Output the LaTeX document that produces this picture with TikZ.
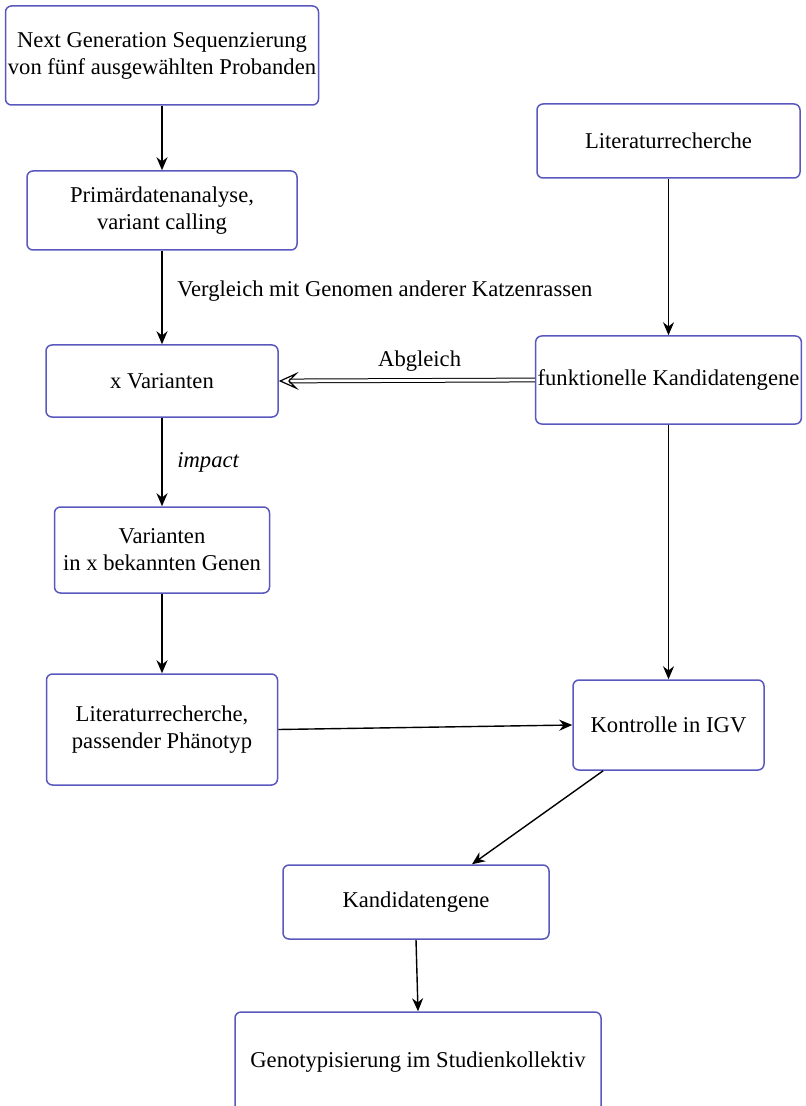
\documentclass[tikz,border=0pt]{standalone}
\usepackage{fontspec}
\setmainfont{Liberation Serif}
\usetikzlibrary{arrows.meta}
\definecolor{boxblau}{RGB}{88,88,190}

\begin{document}
\begin{tikzpicture}[x=0.5pt, y=-0.5pt,
        every node/.style={font=\fontsize{11.3}{13.5}\selectfont},
        box/.style={draw=boxblau, line width=0.75pt, rounded corners=3pt, align=center, inner sep=1pt},
        pfeil/.style={line width=0.7pt, -{Stealth[length=6.5pt, width=5.5pt]}},
        abgleich/.style={double, double distance=1.4pt, line width=0.5pt, -{Stealth[open, length=10pt, width=9pt, inset=4.5pt, line width=0.6pt]}}]
        \useasboundingbox (0,0) rectangle (805,1106);

        % Linke Spalte (Sequenzierung)
        \node[box, minimum width=156.5pt, minimum height=49.5pt] (ngs) at (162,55.5) {Next Generation Sequenzierung\\von fünf ausgewählten Probanden};
        \node[box, minimum width=135pt, minimum height=39.5pt] (prim) at (162,210.5) {Primärdatenanalyse,\\variant calling};
        \node[box, minimum width=116pt, minimum height=36pt] (xvar) at (162,381) {x Varianten};
        \node[box, minimum width=107.5pt, minimum height=43pt] (var) at (162,550) {Varianten\\in x bekannten Genen};
        \node[box, minimum width=115.5pt, minimum height=55.5pt] (litl) at (162,729.5) {Literaturrecherche,\\passender Phänotyp};

        % Rechte Spalte (Kandidatengene)
        \node[box, minimum width=131.5pt, minimum height=37pt] (litr) at (668.5,141) {Literaturrecherche};
        \node[box, minimum width=131.5pt, minimum height=44pt] (funkt) at (668.5,380) {funktionelle Kandidatengene};
        \node[box, minimum width=95.5pt, minimum height=45pt] (ctrl) at (668.5,725) {Kontrolle in IGV};

        % Ergebnis
        \node[box, minimum width=133pt, minimum height=37pt] (kand) at (416,902) {Kandidatengene};
        \node[box, minimum width=183pt, minimum height=50pt] (geno) at (418,1062) {Genotypisierung im Studienkollektiv};

        % Pfeile
        \draw[pfeil] (ngs.south) -- (prim.north);
        \draw[pfeil] (prim.south) -- (xvar.north) node[pos=0.43, right=4pt] {Vergleich mit Genomen anderer Katzenrassen};
        \draw[pfeil] (xvar.south) -- (var.north) node[midway, right=4pt] {\textit{impact}};
        \draw[pfeil] (var.south) -- (litl.north);
        \draw[pfeil] (litl.east) -- (ctrl.west);
        \draw[pfeil] (litr.south) -- (funkt.north);
        \draw[pfeil] (funkt.south) -- (ctrl.north);
        \draw[pfeil] (ctrl.215) -- (kand.34);
        \draw[pfeil] (kand.south) -- (geno.north);

        % Abgleich (Doppelpfeil)
        \draw[abgleich] (funkt.west) -- (xvar.east) node[pos=0.45, above=1pt] {Abgleich};
\end{tikzpicture}
\end{document}
